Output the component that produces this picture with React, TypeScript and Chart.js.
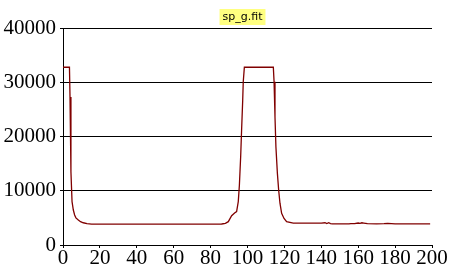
import React, { useEffect, useRef } from "react";
import { Chart, registerables } from "chart.js";

Chart.register(...registerables);

const titleText = "sp_g.fit";
const xValues = [
  0, 3.5, 3.8, 4.3, 4.9, 5.6, 6.3, 7, 8.3, 9.5, 11, 13, 15.5, 20, 30, 40, 50, 60, 70, 80, 86,
  88, 89.6, 91.4, 93, 94.1, 95, 95.6, 96.3, 96.8, 97.4, 97.7, 98.3, 114, 114.4, 114.9, 115.4,
  116.2, 116.9, 117.6, 118.5, 119.8, 121.2, 124.8, 130, 140, 142, 143, 144, 145, 146, 150, 155,
  156, 158, 160, 161, 162, 163, 165, 170, 174, 176, 178, 180, 190, 199,
];
const yValues = [
  32767, 32767, 27300, 13500, 8000, 6450, 5530, 5000, 4600, 4300, 4100, 3950, 3850, 3850, 3850,
  3850, 3850, 3850, 3850, 3860, 3870, 4000, 4300, 5400, 5900, 6150, 8000, 11000, 16300, 21200,
  26700, 30100, 32767, 32767, 30100, 23600, 18100, 13200, 10100, 7700, 5850, 4900, 4300, 4050,
  4050, 4050, 4100, 3950, 4100, 3950, 3900, 3900, 3880, 3950, 3950, 4050, 4000, 4100, 4050, 3950,
  3900, 3950, 4000, 3950, 3880, 3880, 3880,
];

const titlePlugin = {
  id: "titleBox",
  afterDraw(chart: any) {
    const ctx = chart.ctx;
    ctx.save();
    ctx.font = "11px 'DejaVu Sans', sans-serif";
    const w = ctx.measureText(titleText).width + 6;
    const cx = 242.5;
    ctx.fillStyle = "#ffff80";
    ctx.fillRect(cx - w / 2, 9, w, 16);
    ctx.fillStyle = "#000";
    ctx.textAlign = "center";
    ctx.textBaseline = "middle";
    ctx.fillText(titleText, cx, 17.5);
    ctx.restore();
  },
};

const serifFont = { family: "'Liberation Serif', 'Times New Roman', 'DejaVu Serif', serif", size: 21 };

export default function App() {
  const ref = useRef<HTMLCanvasElement>(null);
  useEffect(() => {
    const data = xValues.map((x, i) => ({ x, y: yValues[i] }));
    const chart = new Chart(ref.current!, {
      type: "line",
      data: {
        datasets: [
          {
            data,
            borderColor: "#800000",
            borderWidth: 1.3,
            pointRadius: 0,
            tension: 0,
            fill: false,
          },
        ],
      },
      options: {
        animation: false,
        responsive: false,
        maintainAspectRatio: false,
        layout: { padding: { top: 28, right: 21, left: 0, bottom: 0 } },
        plugins: { legend: { display: false }, tooltip: { enabled: false }, title: { display: false } },
        scales: {
          x: {
            type: "linear",
            min: 0,
            max: 200,
            ticks: {
              stepSize: 20,
              color: "#000",
              font: serifFont,
              padding: -2,
              maxRotation: 0,
              autoSkip: false,
              callback: (v: any) => String(v),
            },
            grid: { drawOnChartArea: false, color: "#000", tickLength: 3, lineWidth: 1 },
            border: { color: "#000", width: 1 },
            afterFit(scale: any) {
              scale.height = 25;
            },
          },
          y: {
            min: 0,
            max: 40000,
            ticks: {
              stepSize: 10000,
              color: "#000",
              font: serifFont,
              padding: 4,
              callback: (v: any) => String(v),
            },
            grid: { color: "#000", tickLength: 3, lineWidth: 1 },
            border: { color: "#000", width: 1 },
            afterFit(scale: any) {
              scale.width = 63;
            },
          },
        },
      },
      plugins: [titlePlugin],
    });
    return () => chart.destroy();
  }, []);
  return (
    <div style={{ position: "fixed", left: 0, top: 0, width: 453, height: 270, background: "#fff" }}>
      <canvas ref={ref} width={453} height={270} style={{ display: "block" }} />
    </div>
  );
}
